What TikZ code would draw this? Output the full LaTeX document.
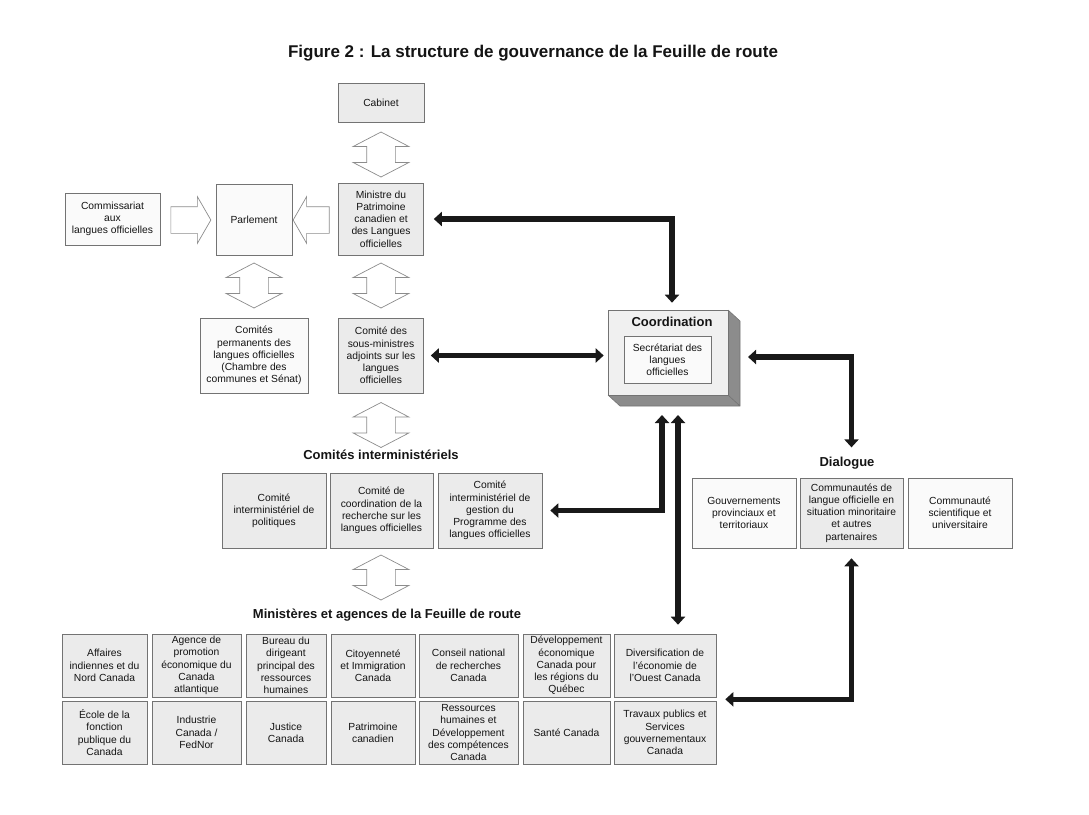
\documentclass[tikz,border=0pt]{standalone}
\usepackage{fontspec}
\setmainfont{Liberation Sans}
\usetikzlibrary{arrows.meta, shapes.arrows}

\begin{document}
\begin{tikzpicture}[
    x=1pt, y=-1pt,
    every node/.style={font=\fontsize{10.3}{12.2}\selectfont, text=black!92},
    box/.style={draw=black!55, line width=0.6pt, fill=black!8,
        align=center, inner sep=1pt},
    wbox/.style={box, fill=black!2},
    hd/.style={font=\bfseries\fontsize{13}{15}\selectfont},
    cell/.style={box, minimum height=63pt},
    dbl/.style={double arrow, draw=black!45, fill=white, line width=0.7pt,
        inner xsep=0pt, inner ysep=14pt, minimum height=45pt,
        double arrow head extend=13.5pt, double arrow tip angle=125,
        rotate=90},
    sgl/.style={single arrow, draw=black!45, fill=white, line width=0.7pt,
        inner xsep=0pt, inner ysep=13pt, minimum height=40pt,
        single arrow head extend=10pt, single arrow tip angle=120},
    link/.style={line width=5.5pt, draw=black!90,
        {Triangle[length=8pt,width=14pt]}-{Triangle[length=8pt,width=14pt]}},
]
\useasboundingbox (0,0) rectangle (1089,814);

% ====== TITLE ======
\node[font=\bfseries\fontsize{17}{19}\selectfont] (title) at (533,53)
    {Figure 2 : La structure de gouvernance de la Feuille de route};

% ====== TOP: Cabinet, Parlement, Ministre ======
\node[box, minimum width=86pt, minimum height=39pt] (cabinet) at (381,102.5) {Cabinet};
\node[box, minimum width=85pt, minimum height=72pt] (ministre) at (381,219)
    {Ministre du\\Patrimoine\\canadien et\\des Langues\\officielles};
\node[wbox, minimum width=76pt, minimum height=71pt] (parl) at (254,219.5) {Parlement};
\node[wbox, minimum width=95pt, minimum height=52pt] (comm) at (112.5,219)
    {Commissariat\\aux\\langues officielles};
\node[wbox, minimum width=108pt, minimum height=75pt] (perm) at (254,355.5)
    {Comités\\permanents des\\langues officielles\\(Chambre des\\communes et Sénat)};
\node[box, minimum width=85pt, minimum height=75pt] (sous) at (381,355.5)
    {Comité des\\sous-ministres\\adjoints sur les\\langues\\officielles};

% hollow arrows
\node[dbl] (a-cab)  at (381,154.5) {};
\node[sgl] (a-comm) at (187,220) {};
\node[sgl, minimum height=36pt, rotate=180] (a-min) at (315,220) {};
\node[dbl] (a-perm) at (254,285.5) {};
\node[dbl] (a-sous) at (381,285.5) {};
\node[dbl] (a-inter) at (381,425) {};
\node[dbl] (a-min2) at (381,577.5) {};

% ====== COMITES INTERMINISTERIELS ======
\node[hd] (interhd) at (381,455) {Comités interministériels};
\node[box, minimum width=104pt, minimum height=75pt] (comi1) at (274,510.5)
    {Comité\\interministériel de\\politiques};
\node[box, minimum width=103pt, minimum height=75pt] (comi2) at (381.5,510.5)
    {Comité de\\coordination de la\\recherche sur les\\langues officielles};
\node[box, minimum width=104pt, minimum height=75pt] (comi3) at (490,510.5)
    {Comité\\interministériel de\\gestion du\\Programme des\\langues officielles};

% ====== COORDINATION ======
\fill[black!45] (728,310) -- (740,321) -- (740,406) -- (620,406)
    -- (608,395) -- (728,395) -- cycle;
\draw[black!55, line width=0.6pt] (728,310) -- (740,321) -- (740,406)
    -- (620,406) -- (608,395) (728,395) -- (740,406);
\node[box, fill=black!6, minimum width=120pt, minimum height=85pt] (coord) at (668,352.5) {};
\node[hd] (coordhd) at (672,322) {Coordination};
\node[wbox, minimum width=87pt, minimum height=47pt] (secr) at (667.5,359.5)
    {Secrétariat des\\langues\\officielles};
\coordinate (cside) at (740,357);
\coordinate (cbot1) at (662,406);
\coordinate (cbot2) at (678,406);

% ====== DIALOGUE ======
\node[hd] (dlghd) at (847,463) {Dialogue};
\node[wbox, minimum width=104pt, minimum height=70pt] (dlg1) at (744,513)
    {Gouvernements\\provinciaux et\\territoriaux};
\node[box, minimum width=103pt, minimum height=70pt] (dlg2) at (851.5,513)
    {Communautés de\\langue officielle en\\situation minoritaire\\et autres\\partenaires};
\node[wbox, minimum width=104pt, minimum height=70pt] (dlg3) at (960,513)
    {Communauté\\scientifique et\\universitaire};

% ====== MINISTERES ET AGENCES ======
\node[hd] (minhd) at (387,615) {Ministères et agences de la Feuille de route};

\node[cell, minimum width=85pt]  (aff)  at (104.5,665.5) {Affaires\\indiennes et du\\Nord Canada};
\node[cell, minimum width=89pt]  (apec) at (196.5,665.5) {Agence de\\promotion\\économique du\\Canada\\atlantique};
\node[cell, minimum width=80pt]  (bdp)  at (286,665.5)   {Bureau du\\dirigeant\\principal des\\ressources\\humaines};
\node[cell, minimum width=84pt]  (cic)  at (373,665.5)   {Citoyenneté\\et Immigration\\Canada};
\node[cell, minimum width=99pt]  (cnr)  at (468.5,665.5) {Conseil national\\de recherches\\Canada};
\node[cell, minimum width=87pt]  (dec)  at (566.5,665.5) {Développement\\économique\\Canada pour\\les régions du\\Québec};
\node[cell, minimum width=102pt] (div)  at (665,665.5)   {Diversification de\\l'économie de\\l'Ouest Canada};

\node[cell, minimum width=85pt]  (efp)  at (104.5,732.5) {École de la\\fonction\\publique du\\Canada};
\node[cell, minimum width=89pt]  (ind)  at (196.5,732.5) {Industrie\\Canada /\\FedNor};
\node[cell, minimum width=80pt]  (jus)  at (286,732.5)   {Justice\\Canada};
\node[cell, minimum width=84pt]  (pat)  at (373,732.5)   {Patrimoine\\canadien};
\node[cell, minimum width=99pt]  (rhd)  at (468.5,732.5) {Ressources\\humaines et\\Développement\\des compétences\\Canada};
\node[cell, minimum width=87pt]  (sante) at (566.5,732.5) {Santé Canada};
\node[cell, minimum width=102pt] (tps)  at (665,732.5)   {Travaux publics et\\Services\\gouvernementaux\\Canada};

% ====== BLACK LINKS ======
\draw[link] ([xshift=10pt]ministre.east) -| ([xshift=4pt,yshift=7pt]coord.north);
\draw[link] ([xshift=7pt]sous.east) -- ([xshift=-4pt]sous.east -| coord.west);
\draw[link] ([xshift=8pt]cside) -| ([yshift=6pt]dlghd.north -| dlg2.north);
\draw[link, shorten <=9pt] (cbot1) |- ([xshift=8pt]comi3.east);
\draw[link, shorten <=9pt, shorten >=9pt] (cbot2) -- (cbot2 |- div.north);
\draw[link] ([yshift=-10pt]dlg2.south) |- ([xshift=9pt,yshift=-2pt]div.south east);

\end{tikzpicture}
\end{document}
